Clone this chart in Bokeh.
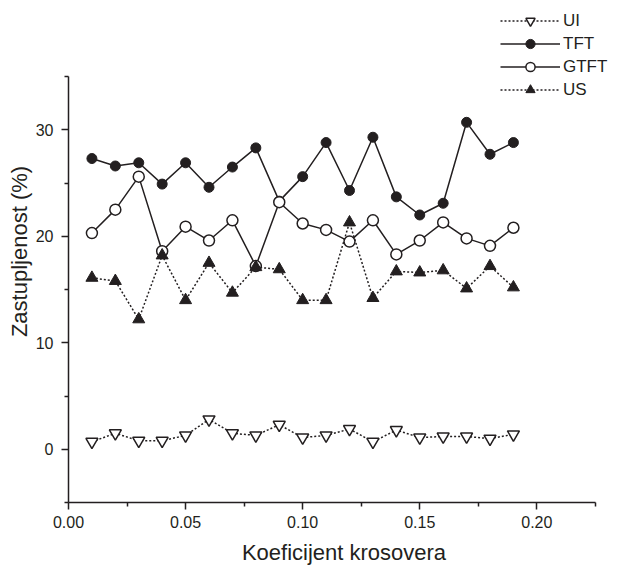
from bokeh.plotting import figure
from bokeh.models import Range1d, FixedTicker, Legend, LegendItem
from bokeh.embed import file_html
from bokeh.resources import INLINE

# ---- data ----
x = [0.01, 0.02, 0.03, 0.04, 0.05, 0.06, 0.07, 0.08, 0.09, 0.10,
     0.11, 0.12, 0.13, 0.14, 0.15, 0.16, 0.17, 0.18, 0.19]
ui = [0.7, 1.5, 0.8, 0.8, 1.3, 2.8, 1.5, 1.3, 2.3, 1.1,
      1.3, 1.9, 0.7, 1.8, 1.1, 1.2, 1.2, 1.0, 1.4]
tft = [27.3, 26.6, 26.9, 24.9, 26.9, 24.6, 26.5, 28.3, 23.3, 25.6,
       28.8, 24.3, 29.3, 23.7, 22.0, 23.1, 30.7, 27.7, 28.8]
gtft = [20.3, 22.5, 25.6, 18.6, 20.9, 19.6, 21.5, 17.2, 23.2, 21.2,
        20.6, 19.5, 21.5, 18.3, 19.6, 21.3, 19.8, 19.1, 20.8]
us = [16.1, 15.8, 12.2, 18.2, 14.0, 17.5, 14.7, 17.1, 16.9, 14.0,
      14.0, 21.3, 14.2, 16.7, 16.6, 16.8, 15.1, 17.2, 15.2]

x_major = [0.0, 0.05, 0.10, 0.15, 0.20]
x_minor = [0.025, 0.075, 0.125, 0.175, 0.225]
y_major = [0, 10, 20, 30]
y_minor = [-5, 5, 15, 25, 35]

INK = "#231f20"
FONT = "Liberation Sans"

# frame spans the whole upper/right area; axis spines limited with bounds
p = figure(width=619, height=568, output_backend="svg", toolbar_location=None,
           x_range=Range1d(0, 0.2353), y_range=Range1d(-5, 42.14),
           min_border_left=68, min_border_right=0,
           min_border_top=0, min_border_bottom=66)
p.outline_line_color = None
p.xgrid.visible = False
p.ygrid.visible = False
p.background_fill_color = "white"
p.border_fill_color = "white"

p.xaxis.bounds = (0, 0.225)
p.yaxis.bounds = (-5, 35)
p.xaxis.ticker = FixedTicker(ticks=x_major, minor_ticks=x_minor)
p.yaxis.ticker = FixedTicker(ticks=y_major, minor_ticks=y_minor)
p.xaxis.major_label_overrides = {0.0: "0.00", 0.05: "0.05", 0.1: "0.10", 0.15: "0.15", 0.2: "0.20"}
p.xaxis.axis_label = "Koeficijent krosovera"
p.yaxis.axis_label = "Zastupljenost (%)"

for ax in (p.xaxis, p.yaxis):
    ax.axis_line_color = INK
    ax.axis_line_width = 1.5
    ax.major_tick_line_color = INK
    ax.major_tick_line_width = 1.5
    ax.minor_tick_line_color = INK
    ax.minor_tick_line_width = 1.5
    ax.major_tick_out = 7
    ax.major_tick_in = 0
    ax.minor_tick_out = 4
    ax.minor_tick_in = 0
    ax.major_label_text_font = FONT
    ax.major_label_text_font_size = "16px"
    ax.major_label_text_color = INK
    ax.axis_label_text_font = FONT
    ax.axis_label_text_font_size = "22px"
    ax.axis_label_text_font_style = "normal"
    ax.axis_label_text_color = INK

p.xaxis.major_label_standoff = 6
p.xaxis.axis_label_standoff = 9
p.yaxis.major_label_standoff = 8
p.yaxis.axis_label_standoff = 1

# ---- series ----
l_tft = p.line(x, tft, line_color=INK, line_width=1.5)
m_tft = p.scatter(x, tft, marker="circle", size=10, fill_color=INK, line_color=INK)

l_gtft = p.line(x, gtft, line_color=INK, line_width=1.5)
m_gtft = p.scatter(x, gtft, marker="circle", size=11, fill_color="white", line_color=INK, line_width=1.5)

l_us = p.line(x, us, line_color=INK, line_width=1.5, line_dash="2 2")
m_us = p.scatter(x, us, marker="triangle", size=12, fill_color=INK, line_color=INK)

l_ui = p.line(x, ui, line_color=INK, line_width=1.5, line_dash="2 2")
m_ui = p.scatter(x, ui, marker="inverted_triangle", size=12, fill_color="white", line_color=INK, line_width=1.5)

legend = Legend(items=[
    LegendItem(label="UI", renderers=[l_ui, m_ui]),
    LegendItem(label="TFT", renderers=[l_tft, m_tft]),
    LegendItem(label="GTFT", renderers=[l_gtft, m_gtft]),
    LegendItem(label="US", renderers=[l_us, m_us]),
], location=(432, 401), orientation="vertical", padding=0, margin=0,
    spacing=0, glyph_width=60, glyph_height=23, label_height=23, label_standoff=3,
    label_text_font=FONT, label_text_font_size="17px", label_text_color=INK,
    border_line_color=None, background_fill_alpha=0)
p.add_layout(legend)

open("out.html", "w").write(file_html(p, INLINE))
